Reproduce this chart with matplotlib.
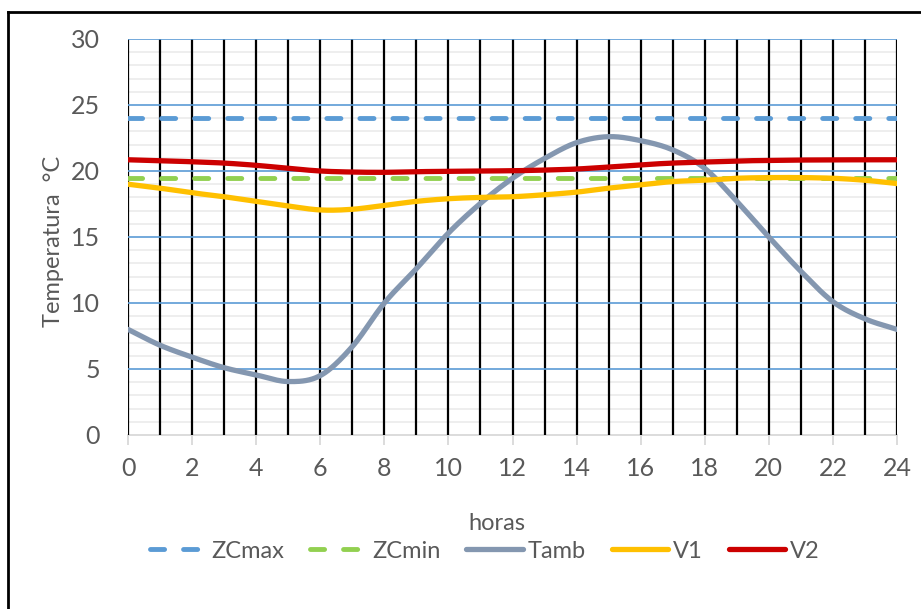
import matplotlib
matplotlib.use("Agg")
import matplotlib.pyplot as plt
from matplotlib.lines import Line2D
from matplotlib.ticker import MultipleLocator
import numpy as np

plt.rcParams['font.family'] = ['Lato', 'DejaVu Sans']

# data (hourly)
hours = list(range(25))
tamb = [8.0, 6.8, 5.9, 5.1, 4.55, 4.05, 4.5, 6.7, 10.0, 12.6, 15.3, 17.55, 19.45,
        20.95, 22.15, 22.6, 22.3, 21.6, 20.2, 17.7, 15.0, 12.4, 10.1, 8.8, 8.0]
v1 = [19.0, 18.7, 18.35, 18.05, 17.7, 17.35, 17.05, 17.1, 17.4, 17.7, 17.9, 18.0, 18.05,
      18.2, 18.4, 18.7, 18.95, 19.2, 19.3, 19.45, 19.5, 19.5, 19.45, 19.3, 19.05]
v2 = [20.85, 20.78, 20.7, 20.6, 20.43, 20.2, 20.0, 19.92, 19.9, 19.95, 19.97, 20.0, 20.02,
      20.07, 20.15, 20.3, 20.47, 20.6, 20.68, 20.76, 20.8, 20.83, 20.84, 20.85, 20.85]
zcmax = [24.0] * 25
zcmin = [19.5] * 25

TXT = '#595959'


def smooth(x, y, n=20):
    # catmull-rom, like excel's "smoothed line"
    x = np.asarray(x, float)
    y = np.asarray(y, float)
    px = np.concatenate([[2 * x[0] - x[1]], x, [2 * x[-1] - x[-2]]])
    py = np.concatenate([[2 * y[0] - y[1]], y, [2 * y[-1] - y[-2]]])
    t = np.linspace(0, 1, n, endpoint=False)
    ox, oy = [], []
    for i in range(1, len(px) - 2):
        for p, o in ((px, ox), (py, oy)):
            p0, p1, p2, p3 = p[i - 1], p[i], p[i + 1], p[i + 2]
            o.extend(0.5 * (2 * p1 + (-p0 + p2) * t + (2 * p0 - 5 * p1 + 4 * p2 - p3) * t ** 2
                            + (-p0 + 3 * p1 - 3 * p2 + p3) * t ** 3))
    ox.append(x[-1])
    oy.append(y[-1])
    return ox, oy


fig = plt.figure(figsize=(9.21, 6.09), dpi=100)
ax = fig.add_axes([128 / 921, 1 - 435 / 609, 769 / 921, 396 / 609])

ax.set_xlim(0, 24)
ax.set_ylim(0, 30)

# gridlines drawn by hand so the stacking order is right
for yv in range(31):
    if yv % 5:
        ax.axhline(yv, color='#EDEDED', lw=1.3, zorder=0.5)
for xv in range(25):
    ax.axvline(xv, color='black', lw=1.6, zorder=1)
for yv in range(5, 31, 5):
    ax.axhline(yv, color='#5B9BD5', lw=1.2, zorder=1.5)

ax.plot(hours, zcmax, color='#5B9BD5', lw=3.5, dashes=(2.9, 3.9), dash_capstyle='round',
        label='ZCmax', zorder=3)
ax.plot(hours, zcmin, color='#92D050', lw=3.5, dashes=(2.9, 3.9), dash_capstyle='round',
        label='ZCmin', zorder=3)
sx, sy = smooth(hours, tamb)
ax.plot(sx, sy, color='#8497B0', lw=3.8, solid_capstyle='round', label='Tamb', zorder=4)
sx, sy = smooth(hours, v1)
ax.plot(sx, sy, color='#FFC000', lw=3.8, solid_capstyle='round', label='V1', zorder=5)
sx, sy = smooth(hours, v2)
ax.plot(sx, sy, color='#CC0000', lw=3.8, solid_capstyle='round', label='V2', zorder=6)

ax.xaxis.set_major_locator(MultipleLocator(2))
ax.yaxis.set_major_locator(MultipleLocator(5))

for s in ('top', 'right', 'left'):
    ax.spines[s].set_visible(False)
ax.spines['bottom'].set_color('#D9D9D9')
ax.spines['bottom'].set_linewidth(1.3)
ax.spines['bottom'].set_zorder(0.8)

ax.tick_params(axis='x', length=7, width=1.3, color='#D9D9D9',
               pad=9, labelsize=18, labelcolor=TXT)
ax.tick_params(axis='y', length=0, pad=20, labelsize=18, labelcolor=TXT)

ax.set_ylabel('Temperatura  °C', fontsize=17, color=TXT)
ax.yaxis.set_label_coords(-0.083, 0.49)
fig.text(497 / 921, 1 - 523 / 609, 'horas', ha='center', va='center', fontsize=17, color=TXT)

leg = fig.legend(loc='center', bbox_to_anchor=(485 / 921, 1 - 551 / 609), ncol=5,
                 frameon=False, fontsize=17, handlelength=2.4, handletextpad=0.2,
                 columnspacing=1.1, labelcolor=TXT)

# outer frame of the chart (top and left edges visible)
fig.add_artist(Line2D([8 / 921, 1], [1 - 12 / 609, 1 - 12 / 609], transform=fig.transFigure,
                      color='black', lw=2))
fig.add_artist(Line2D([8 / 921, 8 / 921], [0, 1 - 12 / 609], transform=fig.transFigure,
                      color='black', lw=2))

fig.savefig('out.png', dpi=100)
